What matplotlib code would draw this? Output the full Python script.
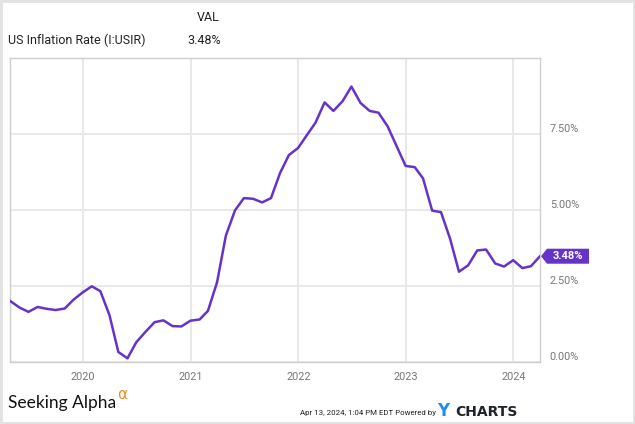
import numpy as np
import pandas as pd
import matplotlib
matplotlib.use("Agg")
import matplotlib.pyplot as plt
from matplotlib.patches import Polygon, Rectangle

plt.rcParams['font.family'] = ['Roboto', 'DejaVu Sans']

# US inflation rate, month end, Apr 2019 - Mar 2024
rate = [2.00, 1.79, 1.65, 1.81, 1.75, 1.71, 1.76, 2.05, 2.29,
        2.49, 2.33, 1.54, 0.33, 0.12, 0.65, 0.99, 1.31, 1.37, 1.18, 1.17, 1.36,
        1.40, 1.68, 2.62, 4.16, 4.99, 5.39, 5.37, 5.25, 5.39, 6.22, 6.81, 7.04,
        7.48, 7.87, 8.54, 8.26, 8.58, 9.06, 8.52, 8.26, 8.20, 7.75, 7.11, 6.45,
        6.41, 6.04, 4.98, 4.93, 4.05, 2.97, 3.18, 3.67, 3.70, 3.24, 3.14, 3.35,
        3.09, 3.15, 3.48]
dates = pd.date_range('2019-04-30', periods=len(rate), freq='ME')
years = [2020, 2021, 2022, 2023, 2024]
yticks = [0, 2.5, 5, 7.5]

purple = '#6633c9'
grid_c = '#e8e8e8'
spine_c = '#cfcfcf'
lab_c = '#777777'

fig = plt.figure(figsize=(6.35, 4.24), dpi=100)
ax = fig.add_axes([0.0165, 0.1462, 0.8339, 0.717])

ax.plot(dates, rate, color=purple, lw=1.8, solid_joinstyle='round', zorder=3)
ax.set_xlim(dates[0], dates[-1])
ax.set_ylim(0, 10)

ax.set_xticks([pd.Timestamp(f'{y}-01-01') for y in years])
ax.set_xticklabels([str(y) for y in years])
ax.set_yticks(yticks)
ax.set_yticklabels([f'{v:.2f}%' for v in yticks])
ax.yaxis.tick_right()
ax.tick_params(axis='both', length=0, colors=lab_c, labelsize=7.8)
ax.tick_params(axis='x', pad=7)
ax.tick_params(axis='y', pad=7)
for lbl in ax.get_yticklabels():
    lbl.set_verticalalignment('bottom')
ax.grid(True, color=grid_c, lw=1.4)
for s in ax.spines.values():
    s.set_color(spine_c)
    s.set_linewidth(1.0)

# value tag at the last point
fig.canvas.draw()
px, py = ax.transData.transform((matplotlib.dates.date2num(dates[-1]), rate[-1]))
h = 7.5
tag = Polygon([(px + 1, py), (px + 7, py + h), (px + 49, py + h),
               (px + 49, py - h), (px + 7, py - h)],
              closed=True, transform=None, facecolor=purple, edgecolor='none',
              zorder=5, clip_on=False)
fig.patches.append(tag)
fig.text((px + 28) / fig.bbox.width, py / fig.bbox.height, f'{rate[-1]:.2f}%',
         color='white', fontsize=8, fontweight='bold', ha='center', va='center',
         zorder=7)

# header
fig.text(0.0126, 0.905, 'US Inflation Rate (I:USIR)', fontsize=9, color='#222222',
         va='center', ha='left')
fig.text(0.348, 0.905, f'{rate[-1]:.2f}%', fontsize=9, color='#222222',
         va='center', ha='right')
fig.text(0.346, 0.958, 'VAL', fontsize=9, color='#222222', va='center', ha='right')

# footer
fig.text(0.0126, 0.038, 'Seeking Alpha', fontsize=12.5, family='Lato', color='#111111',
         va='baseline', ha='left')
fig.text(0.184, 0.058, 'α', fontsize=11, family='DejaVu Sans', color='#f28c28',
         va='baseline', ha='left')
fig.text(0.472, 0.021, 'Apr 13, 2024, 1:04 PM EDT Powered by', fontsize=5.7,
         color='#222222', va='baseline', ha='left')
fig.text(0.689, 0.020, 'Y', fontsize=12, fontweight='bold', color='#1e8ff0',
         va='baseline', ha='left', family='DejaVu Sans')
fig.text(0.717, 0.020, 'CHARTS', fontsize=10, fontweight='bold', color='#1f2329',
         va='baseline', ha='left', family='DejaVu Sans')

# outer light frame
fig.patches.append(Rectangle((0, 0), 1, 1, transform=fig.transFigure, fill=False,
                             edgecolor='#e3e3e3', lw=3.5, zorder=10))

fig.savefig('out.png', dpi=100)
